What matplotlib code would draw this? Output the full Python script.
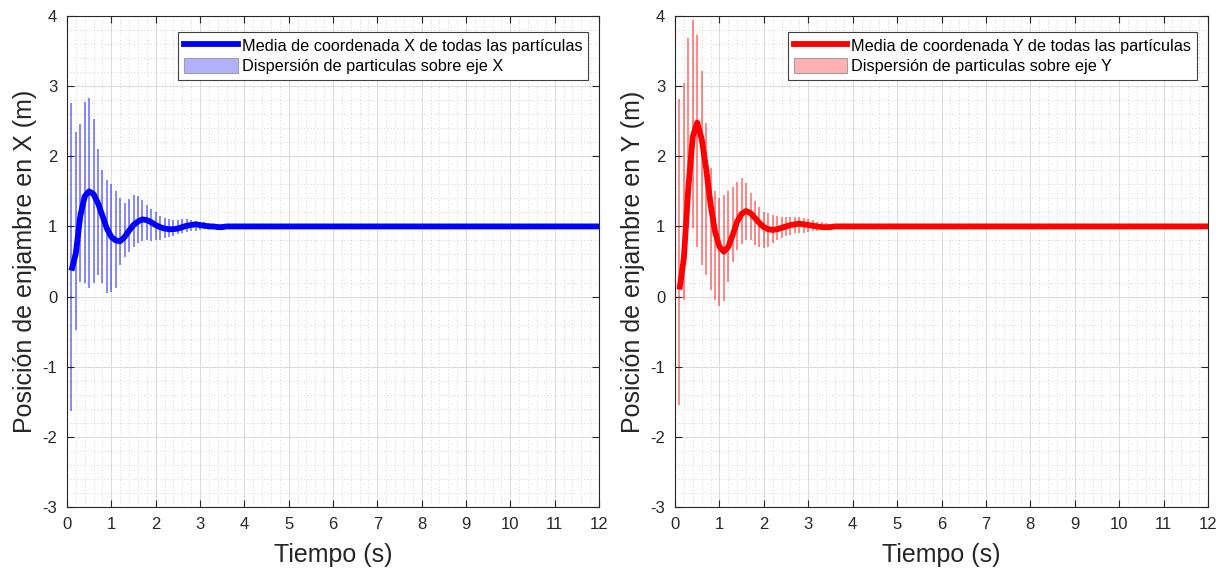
import matplotlib
matplotlib.use("Agg")
import matplotlib.pyplot as plt
from matplotlib.patches import Patch
from matplotlib.ticker import MultipleLocator

plt.rcParams['font.family'] = ['Liberation Sans', 'DejaVu Sans']
plt.rcParams['axes.unicode_minus'] = False

# Sample times (s); after ~4 s everything has converged to 1.0
t = [0.1, 0.2, 0.3, 0.4, 0.5, 0.6, 0.7, 0.8, 0.9, 1.0,
     1.1, 1.2, 1.3, 1.4, 1.5, 1.6, 1.7, 1.8, 1.9, 2.0,
     2.1, 2.2, 2.3, 2.4, 2.5, 2.6, 2.7, 2.8, 2.9, 3.0,
     3.1, 3.2, 3.3, 3.4, 3.5, 3.6, 3.7, 3.8, 3.9, 4.0, 12.0]

# X coordinate: mean and particle dispersion (min / max)
mean_x = [0.37, 0.62, 1.15, 1.43, 1.50, 1.46, 1.33, 1.15, 0.97, 0.85,
          0.80, 0.79, 0.85, 0.94, 1.02, 1.07, 1.10, 1.09, 1.06, 1.02,
          0.99, 0.97, 0.96, 0.96, 0.97, 0.99, 1.01, 1.02, 1.03, 1.02,
          1.01, 1.00, 1.00, 0.99, 0.99, 1.00, 1.00, 1.00, 1.00, 1.00, 1.00]
upper_x = [2.76, 2.35, 2.46, 2.77, 2.83, 2.53, 2.10, 1.80, 1.66, 1.60,
           1.51, 1.40, 1.34, 1.39, 1.45, 1.44, 1.37, 1.30, 1.25, 1.20,
           1.15, 1.12, 1.10, 1.09, 1.09, 1.10, 1.10, 1.09, 1.08, 1.07,
           1.06, 1.05, 1.04, 1.04, 1.03, 1.02, 1.02, 1.01, 1.01, 1.01, 1.00]
lower_x = [-1.63, -0.48, 0.21, 0.20, 0.12, 0.19, 0.31, 0.19, 0.05, 0.06,
           0.12, 0.45, 0.57, 0.64, 0.71, 0.76, 0.79, 0.80, 0.79, 0.80,
           0.81, 0.83, 0.85, 0.87, 0.89, 0.90, 0.92, 0.93, 0.94, 0.95,
           0.96, 0.96, 0.97, 0.97, 0.98, 0.98, 0.99, 0.99, 0.99, 0.99, 1.00]

# Y coordinate: mean and particle dispersion (min / max)
mean_y = [0.10, 0.55, 1.55, 2.28, 2.48, 2.25, 1.83, 1.32, 0.93, 0.71,
          0.64, 0.71, 0.88, 1.07, 1.18, 1.22, 1.19, 1.12, 1.05, 0.99,
          0.96, 0.95, 0.96, 0.98, 1.00, 1.02, 1.03, 1.04, 1.03, 1.02,
          1.01, 1.00, 0.99, 0.99, 0.99, 1.00, 1.00, 1.00, 1.00, 1.00, 1.00]
upper_y = [2.82, 3.05, 3.69, 3.95, 3.73, 3.21, 2.48, 1.83, 1.50, 1.41,
           1.45, 1.50, 1.56, 1.64, 1.69, 1.62, 1.48, 1.36, 1.27, 1.21,
           1.19, 1.17, 1.15, 1.14, 1.14, 1.14, 1.14, 1.13, 1.12, 1.10,
           1.09, 1.07, 1.06, 1.05, 1.04, 1.03, 1.03, 1.02, 1.02, 1.01, 1.00]
lower_y = [-1.55, -0.05, 1.05, 0.98, 0.71, 0.45, 0.31, 0.10, -0.05, -0.13,
           -0.06, 0.21, 0.49, 0.67, 0.75, 0.80, 0.80, 0.74, 0.70, 0.69,
           0.71, 0.76, 0.80, 0.84, 0.87, 0.88, 0.90, 0.90, 0.91, 0.92,
           0.93, 0.94, 0.95, 0.96, 0.96, 0.97, 0.98, 0.98, 0.99, 0.99, 1.00]

xticks = list(range(0, 13))
yticks = list(range(-3, 5))

panels = [
    dict(mean=mean_x, lo=lower_x, hi=upper_x, color=(0, 0, 1), light=(0.69, 0.69, 1.0),
         ylabel='Posición de enjambre en X (m)',
         l1='Media de coordenada X de todas las partículas',
         l2='Dispersión de particulas sobre eje X'),
    dict(mean=mean_y, lo=lower_y, hi=upper_y, color=(1, 0, 0), light=(1.0, 0.69, 0.69),
         ylabel='Posición de enjambre en Y (m)',
         l1='Media de coordenada Y de todas las partículas',
         l2='Dispersión de particulas sobre eje Y'),
]

fig = plt.figure(figsize=(12.32, 5.74), dpi=100)
axes = [fig.add_axes([67 / 1232, 67 / 574, 532 / 1232, 491 / 574]),
        fig.add_axes([675 / 1232, 67 / 574, 533 / 1232, 491 / 574])]

axc = '#262626'
for ax, p in zip(axes, panels):
    ax.vlines(t, p['lo'], p['hi'], color=p['color'], alpha=0.5, linewidth=1.3, zorder=3)
    ax.plot(t, p['mean'], color=p['color'], linewidth=4.2, zorder=4,
            solid_capstyle='butt', solid_joinstyle='round')
    ax.set_xlim(0, 12)
    ax.set_ylim(-3, 4)
    ax.set_xticks(xticks)
    ax.set_yticks(yticks)
    ax.xaxis.set_minor_locator(MultipleLocator(0.2))
    ax.yaxis.set_minor_locator(MultipleLocator(0.2))
    ax.grid(which='major', color='#dcdcdc', linewidth=0.8, linestyle='-', zorder=0)
    ax.grid(which='minor', color='#c4c4c4', linewidth=0.6, linestyle=(0, (1, 3)), zorder=0)
    ax.set_axisbelow(True)
    ax.tick_params(which='major', direction='in', length=5, width=0.8, top=True, right=True,
                   colors=axc, labelsize=12, pad=7)
    ax.tick_params(which='minor', length=0)
    for s in ax.spines.values():
        s.set_color(axc)
        s.set_linewidth(0.8)
    ax.set_xlabel('Tiempo (s)', fontsize=18, color=axc, labelpad=8)
    ax.set_ylabel(p['ylabel'], fontsize=18, color=axc, labelpad=4)
    handles = [plt.Line2D([], [], color=p['color'], linewidth=4.2),
               Patch(facecolor=p['light'], edgecolor='#a0a0a0', linewidth=0.8)]
    leg = ax.legend(handles, [p['l1'], p['l2']], loc='upper right',
                    bbox_to_anchor=(1 - 11 / 532, 1 - 16 / 491), borderaxespad=0,
                    fontsize=11.7, fancybox=False, framealpha=1, edgecolor='#404040',
                    handlelength=3.3, handleheight=1.0, handletextpad=0.25,
                    borderpad=0.35, labelspacing=0.3)
    leg.get_frame().set_linewidth(0.8)

fig.savefig('out.png', dpi=100)
